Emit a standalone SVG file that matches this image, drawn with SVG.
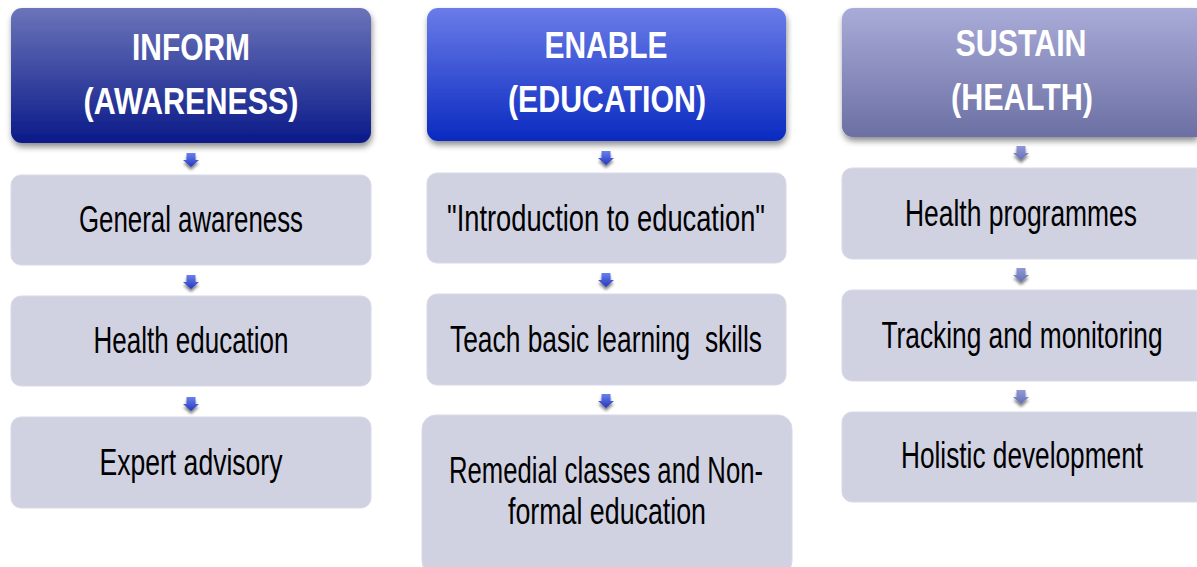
<svg xmlns="http://www.w3.org/2000/svg" width="1197" height="567" viewBox="0 0 1197 567">
<defs>
<linearGradient id="gInform" x1="0" y1="0" x2="0" y2="1"><stop offset="0" stop-color="#6b74b9"/><stop offset="1" stop-color="#0a1a88"/></linearGradient>
<linearGradient id="gEnable" x1="0" y1="0" x2="0" y2="1"><stop offset="0" stop-color="#6a7ce8"/><stop offset="1" stop-color="#0a2ac0"/></linearGradient>
<linearGradient id="gSustain" x1="0" y1="0" x2="0" y2="1"><stop offset="0" stop-color="#a9acd8"/><stop offset="1" stop-color="#6b6fa3"/></linearGradient>
<linearGradient id="gArrow" x1="0" y1="0" x2="0" y2="1"><stop offset="0" stop-color="#6a80f0"/><stop offset="1" stop-color="#2438b8"/></linearGradient>
<linearGradient id="gArrow3" x1="0" y1="0" x2="0" y2="1"><stop offset="0" stop-color="#9098d8"/><stop offset="1" stop-color="#6670b0"/></linearGradient>
<filter id="shadow" x="-10%" y="-10%" width="125%" height="130%">
<feGaussianBlur in="SourceAlpha" stdDeviation="3"/>
<feOffset dx="1" dy="4" result="b"/>
<feComponentTransfer><feFuncA type="linear" slope="0.45"/></feComponentTransfer>
<feMerge><feMergeNode/><feMergeNode in="SourceGraphic"/></feMerge>
</filter>
<filter id="ashadow" x="-50%" y="-50%" width="200%" height="220%">
<feGaussianBlur in="SourceAlpha" stdDeviation="1.5"/>
<feOffset dx="0" dy="3"/>
<feComponentTransfer><feFuncA type="linear" slope="0.5"/></feComponentTransfer>
<feMerge><feMergeNode/><feMergeNode in="SourceGraphic"/></feMerge>
</filter>
<path id="arr" d="M-4.5,0 H4.5 V7 H8 L0,14 L-8,7 H-4.5 Z"/>
</defs>
<style>
.hdr{font-family:"Liberation Sans",Arial,sans-serif;font-weight:bold;font-size:37px;fill:#ffffff;text-anchor:middle}
.box{fill:#d0d2e2;stroke:#d8dae8;stroke-width:1}
.lbl{font-family:"Liberation Sans","DejaVu Sans Condensed",sans-serif;font-size:36px;fill:#000000;text-anchor:middle}
</style>
<rect width="1197" height="567" fill="#ffffff"/>

<g id="connectors">
<use href="#arr" x="191" y="153" fill="url(#gArrow)" filter="url(#ashadow)"/>
<use href="#arr" x="191" y="275" fill="url(#gArrow)" filter="url(#ashadow)"/>
<use href="#arr" x="191" y="397" fill="url(#gArrow)" filter="url(#ashadow)"/>
<use href="#arr" x="606" y="151" fill="url(#gArrow)" filter="url(#ashadow)"/>
<use href="#arr" x="606" y="273" fill="url(#gArrow)" filter="url(#ashadow)"/>
<use href="#arr" x="606" y="394" fill="url(#gArrow)" filter="url(#ashadow)"/>
<use href="#arr" x="1021" y="146" fill="url(#gArrow3)" filter="url(#ashadow)"/>
<use href="#arr" x="1021" y="268" fill="url(#gArrow3)" filter="url(#ashadow)"/>
<use href="#arr" x="1021" y="390" fill="url(#gArrow3)" filter="url(#ashadow)"/>
</g>

<g id="inform">
<rect x="11" y="8" width="360" height="135" rx="11" fill="url(#gInform)" filter="url(#shadow)"/>
<text class="hdr" x="191" y="60" textLength="118" lengthAdjust="spacingAndGlyphs">INFORM</text>
<text class="hdr" x="191" y="114" textLength="215" lengthAdjust="spacingAndGlyphs">(AWARENESS)</text>
</g>
<g id="enable">
<rect x="427" y="8" width="359" height="133" rx="11" fill="url(#gEnable)" filter="url(#shadow)"/>
<text class="hdr" x="606" y="58" textLength="123" lengthAdjust="spacingAndGlyphs">ENABLE</text>
<text class="hdr" x="607" y="112" textLength="198" lengthAdjust="spacingAndGlyphs">(EDUCATION)</text>
</g>
<g id="sustain">
<path d="M853,8 H1197 V137 H853 A11,11 0 0 1 842,126 V19 A11,11 0 0 1 853,8 Z" fill="url(#gSustain)" filter="url(#shadow)"/>
<text class="hdr" x="1021" y="56" textLength="131" lengthAdjust="spacingAndGlyphs">SUSTAIN</text>
<text class="hdr" x="1022" y="110" textLength="142" lengthAdjust="spacingAndGlyphs">(HEALTH)</text>
</g>

<g id="general-awareness">
<rect class="box" x="11" y="175" width="360" height="90" rx="10"/>
<text class="lbl" x="191" y="232" textLength="224" lengthAdjust="spacingAndGlyphs">General awareness</text>
</g>
<g id="health-education">
<rect class="box" x="11" y="296" width="360" height="90" rx="10"/>
<text class="lbl" x="191" y="353" textLength="195" lengthAdjust="spacingAndGlyphs">Health education</text>
</g>
<g id="expert-advisory">
<rect class="box" x="11" y="417" width="360" height="91" rx="10"/>
<text class="lbl" x="191" y="475" textLength="183" lengthAdjust="spacingAndGlyphs">Expert advisory</text>
</g>

<g id="intro-education">
<rect class="box" x="427" y="173" width="359" height="90" rx="10"/>
<text class="lbl" x="606" y="231" textLength="318" lengthAdjust="spacingAndGlyphs">"Introduction to education"</text>
</g>
<g id="basic-skills">
<rect class="box" x="427" y="294" width="359" height="91" rx="10"/>
<text class="lbl" x="606" y="352" textLength="312" lengthAdjust="spacingAndGlyphs" xml:space="preserve">Teach basic learning  skills</text>
</g>
<g id="remedial">
<rect class="box" x="422" y="415" width="370" height="160" rx="14"/>
<text class="lbl" x="606" y="483" textLength="314" lengthAdjust="spacingAndGlyphs">Remedial classes and Non-</text>
<text class="lbl" x="607" y="524" textLength="198" lengthAdjust="spacingAndGlyphs">formal education</text>
</g>

<g id="health-programmes">
<path class="box" d="M852,168 H1197 V259 H852 A10,10 0 0 1 842,249 V178 A10,10 0 0 1 852,168 Z"/>
<text class="lbl" x="1021" y="226" textLength="232" lengthAdjust="spacingAndGlyphs">Health programmes</text>
</g>
<g id="tracking">
<path class="box" d="M852,290 H1197 V381 H852 A10,10 0 0 1 842,371 V300 A10,10 0 0 1 852,290 Z"/>
<text class="lbl" x="1022" y="348" textLength="281" lengthAdjust="spacingAndGlyphs">Tracking and monitoring</text>
</g>
<g id="holistic">
<path class="box" d="M852,412 H1197 V502 H852 A10,10 0 0 1 842,492 V422 A10,10 0 0 1 852,412 Z"/>
<text class="lbl" x="1022" y="468" textLength="242" lengthAdjust="spacingAndGlyphs">Holistic development</text>
</g>
</svg>
